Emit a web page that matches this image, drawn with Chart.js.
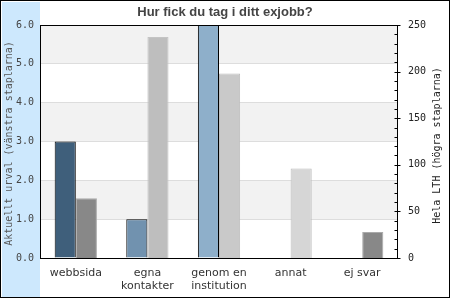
<!DOCTYPE html>
<html>
<head>
<meta charset="utf-8">
<script src="https://cdn.jsdelivr.net/npm/chart.js@4/dist/chart.umd.min.js"></script>
<style>
html,body{margin:0;padding:0;background:#fff;}
canvas{display:block;}
</style>
</head>
<body>
<canvas id="chart" width="450" height="300"></canvas>
<script>
const categories=['webbsida',['egna','kontakter'],['genom en','institution'],'annat','ej svar'];
const urvalValues=[3,1,6,0,0];
const lthValues=[64,237,198,96,28];
const urvalColors=['#3f5f7b','#7192af','#8eafca','#8eafca','#8eafca'];
const lthColors=['#888888','#bebebe','#c9c9c9','#d6d6d6','#888888'];
const lthBorders=['#aaaaaa','#c4c4c4','#bdbdbd','#bdbdbd','#aaaaaa'];
const leftTitle='Aktuellt urval (vänstra staplarna)';
const rightTitle='Hela LTH (högra staplarna)';

const mono="'DejaVu Sans Mono', monospace";

const decor={
  id:'decor',
  beforeDraw(chart){
    const ctx=chart.ctx, a=chart.chartArea, y=chart.scales.y;
    ctx.save();
    ctx.fillStyle='#fff';
    ctx.fillRect(0,0,chart.width,chart.height);
    ctx.fillStyle='#cde8fd';
    ctx.fillRect(2,2,a.left-2,295);
    // alternating bands
    ctx.fillStyle='#f2f2f2';
    for(let v=6;v>0;v-=2){
      const t=y.getPixelForValue(v), b=y.getPixelForValue(v-1);
      ctx.fillRect(a.left,t,a.right-a.left,b-t);
    }
    ctx.restore();
  },
  afterDraw(chart){
    const ctx=chart.ctx, a=chart.chartArea, y1=chart.scales.y1;
    ctx.save();
    ctx.strokeStyle='#000';
    ctx.lineWidth=1;
    ctx.strokeRect(Math.round(a.left)+0.5,Math.round(a.top)+0.5,Math.round(a.right-a.left)-1,Math.round(a.bottom-a.top));
    // right axis ticks
    const xr=Math.round(a.right)-0.5;
    ctx.beginPath();
    y1.ticks.forEach(t=>{
      const py=Math.round(y1.getPixelForValue(t.value))+0.5;
      const major=t.value%50===0;
      ctx.moveTo(xr-3,py);
      ctx.lineTo(major?xr+3:xr,py);
    });
    ctx.stroke();
    // axis titles
    ctx.font='10px '+mono;
    ctx.textAlign='center';
    ctx.textBaseline='middle';
    const cy=(a.top+a.bottom)/2;
    ctx.fillStyle='#555';
    ctx.translate(9,cy+2);
    ctx.rotate(-Math.PI/2);
    ctx.fillText(leftTitle,0,0);
    ctx.setTransform(1,0,0,1,0,0);
    ctx.fillStyle='#222';
    ctx.translate(437,cy+4);
    ctx.rotate(-Math.PI/2);
    ctx.fillText(rightTitle,0,0);
    ctx.setTransform(1,0,0,1,0,0);
    // outer frame
    ctx.strokeRect(0.5,0.5,449,297);
    ctx.restore();
  }
};

new Chart(document.getElementById('chart'),{
  type:'bar',
  data:{
    labels:categories,
    datasets:[
      {data:urvalValues,yAxisID:'y',backgroundColor:urvalColors,borderColor:'#000',borderWidth:1,categoryPercentage:0.59,barPercentage:1},
      {data:lthValues,yAxisID:'y1',backgroundColor:lthColors,borderColor:lthBorders,borderWidth:1,categoryPercentage:0.59,barPercentage:1}
    ]
  },
  options:{
    responsive:false,
    animation:false,
    devicePixelRatio:1,
    layout:{padding:0},
    plugins:{
      legend:{display:false},
      tooltip:{enabled:false},
      title:{display:true,text:'Hur fick du tag i ditt exjobb?',color:'#444',
        font:{family:"'Liberation Sans', Arial, sans-serif",size:13,weight:'bold',lineHeight:1.2},
        padding:{top:5,bottom:4.4}}
    },
    scales:{
      x:{
        grid:{display:false,drawTicks:false},
        border:{display:false},
        ticks:{color:'#333',font:{family:"'DejaVu Sans', sans-serif",size:11,lineHeight:1.15},padding:9,maxRotation:0,autoSkip:false},
        afterFit(s){s.height=42;}
      },
      y:{
        position:'left',min:0,max:6,
        grid:{color:'#dddddd',drawTicks:false},
        border:{display:false},
        ticks:{stepSize:1,color:'#444',font:{family:mono,size:10},padding:6,callback:v=>v.toFixed(1)},
        afterFit(s){s.width=40;}
      },
      y1:{
        position:'right',min:0,max:250,
        grid:{display:false,drawTicks:false},
        border:{display:false},
        ticks:{stepSize:10,autoSkip:false,color:'#222',font:{family:mono,size:10},padding:10,callback:v=>v%50===0?String(v):''},
        afterFit(s){s.width=52;}
      }
    }
  },
  plugins:[decor]
});
</script>
</body>
</html>
